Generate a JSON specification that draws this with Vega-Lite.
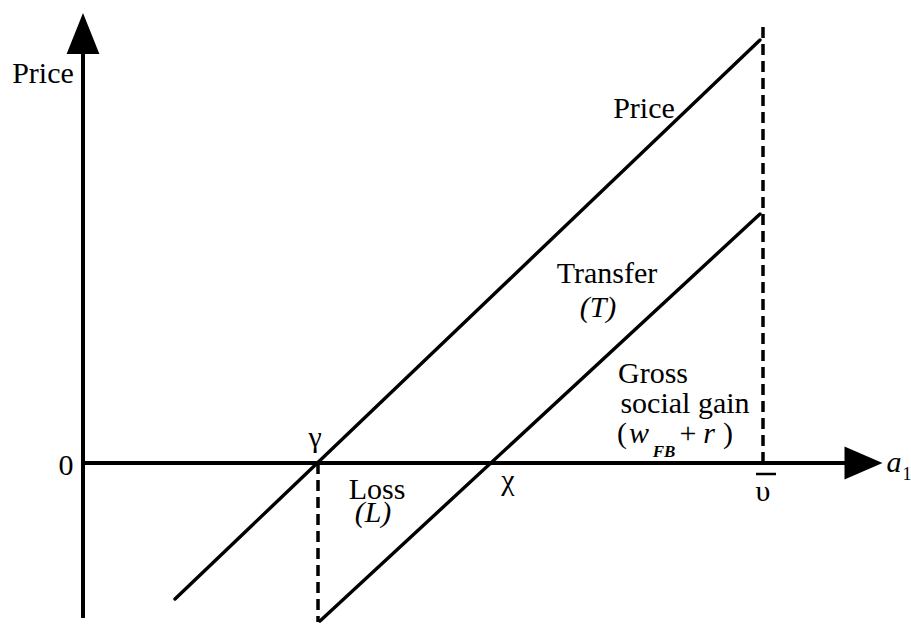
{
  "$schema": "https://vega.github.io/schema/vega-lite/v6.json",
  "width": 911,
  "height": 626,
  "padding": 0,
  "autosize": {"type": "none"},
  "background": "white",
  "config": {"view": {"stroke": null}},
  "datasets": {
    "segments": [
      {"kind": "axis", "x": 0, "y": -155, "x2": 0, "y2": 409},
      {"kind": "axis", "x": 0, "y": 0, "x2": 762, "y2": 0},
      {"kind": "curve", "name": "Price", "x": 92, "y": -136, "x2": 677, "y2": 423},
      {"kind": "curve", "name": "Transfer", "x": 237, "y": -158, "x2": 677, "y2": 249},
      {"kind": "guide", "x": 235, "y": 0, "x2": 235, "y2": -159},
      {"kind": "guide", "x": 680, "y": 0, "x2": 680, "y2": 440},
      {"kind": "bar", "x": 673, "y": -11, "x2": 693, "y2": -11}
    ],
    "arrows": [
      {"dir": "up", "x": 0, "y": 429.5},
      {"dir": "right", "x": 780.5, "y": 0}
    ],
    "labels": [
      {"role": "word", "text": "Price", "x": -40, "y": 380},
      {"role": "word", "text": "Price", "x": 561, "y": 345},
      {"role": "word", "text": "Transfer", "x": 524, "y": 180},
      {"role": "var", "text": "(T)", "x": 515, "y": 146},
      {"role": "word", "text": "Gross", "x": 570, "y": 80},
      {"role": "word", "text": "social gain", "x": 602, "y": 50},
      {"role": "word", "text": "(", "x": 539, "y": 20},
      {"role": "var", "text": "w", "x": 556, "y": 20},
      {"role": "sub", "text": "FB", "x": 581, "y": 6},
      {"role": "word", "text": "+", "x": 605, "y": 20},
      {"role": "var", "text": "r", "x": 626, "y": 20},
      {"role": "word", "text": ")", "x": 645, "y": 20},
      {"role": "word", "text": "Loss", "x": 294, "y": -36},
      {"role": "var", "text": "(L)", "x": 290, "y": -59},
      {"role": "word", "text": "γ", "x": 232, "y": 16},
      {"role": "word", "text": "χ", "x": 425, "y": -27},
      {"role": "word", "text": "υ", "x": 680, "y": -38},
      {"role": "word", "text": "0", "x": -17, "y": -12},
      {"role": "var", "text": "a", "x": 811, "y": -9},
      {"role": "index", "text": "1", "x": 824, "y": -17}
    ]
  },
  "encoding": {
    "x": {"field": "x", "type": "quantitative", "scale": {"domain": [-83, 828], "nice": false, "zero": false}, "axis": null},
    "y": {"field": "y", "type": "quantitative", "scale": {"domain": [-163, 463], "nice": false, "zero": false}, "axis": null}
  },
  "layer": [
    {
      "data": {"name": "segments"},
      "transform": [{"filter": "datum.kind === 'guide'"}],
      "mark": {"type": "rule", "color": "black", "strokeWidth": 3.5, "strokeDash": [11, 6], "clip": false},
      "encoding": {"x2": {"field": "x2"}, "y2": {"field": "y2"}}
    },
    {
      "data": {"name": "segments"},
      "transform": [{"filter": "datum.kind === 'axis'"}],
      "mark": {"type": "rule", "color": "black", "strokeWidth": 4, "clip": false},
      "encoding": {"x2": {"field": "x2"}, "y2": {"field": "y2"}}
    },
    {
      "data": {"name": "segments"},
      "transform": [{"filter": "datum.kind === 'curve'"}],
      "mark": {"type": "rule", "color": "black", "strokeWidth": 3.4, "strokeCap": "round", "clip": false},
      "encoding": {"x2": {"field": "x2"}, "y2": {"field": "y2"}}
    },
    {
      "data": {"name": "segments"},
      "transform": [{"filter": "datum.kind === 'bar'"}],
      "mark": {"type": "rule", "color": "black", "strokeWidth": 2.5, "clip": false},
      "encoding": {"x2": {"field": "x2"}, "y2": {"field": "y2"}}
    },
    {
      "data": {"name": "arrows"},
      "mark": {"type": "point", "filled": true, "color": "black", "opacity": 1, "size": 1681, "strokeWidth": 0, "clip": false},
      "encoding": {
        "shape": {
          "field": "dir",
          "type": "nominal",
          "scale": {"domain": ["up", "right"], "range": ["M0,-1L0.8,1L-0.8,1Z", "M0.927,0L-0.927,0.805L-0.927,-0.805Z"]},
          "legend": null
        }
      }
    },
    {
      "data": {"name": "labels"},
      "transform": [{"filter": "datum.role === 'word'"}],
      "mark": {"type": "text", "font": "'Times New Roman', 'Liberation Serif', 'DejaVu Serif', serif", "fontSize": 30, "align": "center", "baseline": "alphabetic", "color": "black", "clip": false},
      "encoding": {"text": {"field": "text"}}
    },
    {
      "data": {"name": "labels"},
      "transform": [{"filter": "datum.role === 'var'"}],
      "mark": {"type": "text", "font": "'Times New Roman', 'Liberation Serif', 'DejaVu Serif', serif", "fontSize": 30, "fontStyle": "italic", "align": "center", "baseline": "alphabetic", "color": "black", "clip": false},
      "encoding": {"text": {"field": "text"}}
    },
    {
      "data": {"name": "labels"},
      "transform": [{"filter": "datum.role === 'sub'"}],
      "mark": {"type": "text", "font": "'Times New Roman', 'Liberation Serif', 'DejaVu Serif', serif", "fontSize": 17, "fontStyle": "italic", "fontWeight": "bold", "align": "center", "baseline": "alphabetic", "color": "black", "clip": false},
      "encoding": {"text": {"field": "text"}}
    },
    {
      "data": {"name": "labels"},
      "transform": [{"filter": "datum.role === 'index'"}],
      "mark": {"type": "text", "font": "'Times New Roman', 'Liberation Serif', 'DejaVu Serif', serif", "fontSize": 18, "align": "center", "baseline": "alphabetic", "color": "black", "clip": false},
      "encoding": {"text": {"field": "text"}}
    }
  ]
}
